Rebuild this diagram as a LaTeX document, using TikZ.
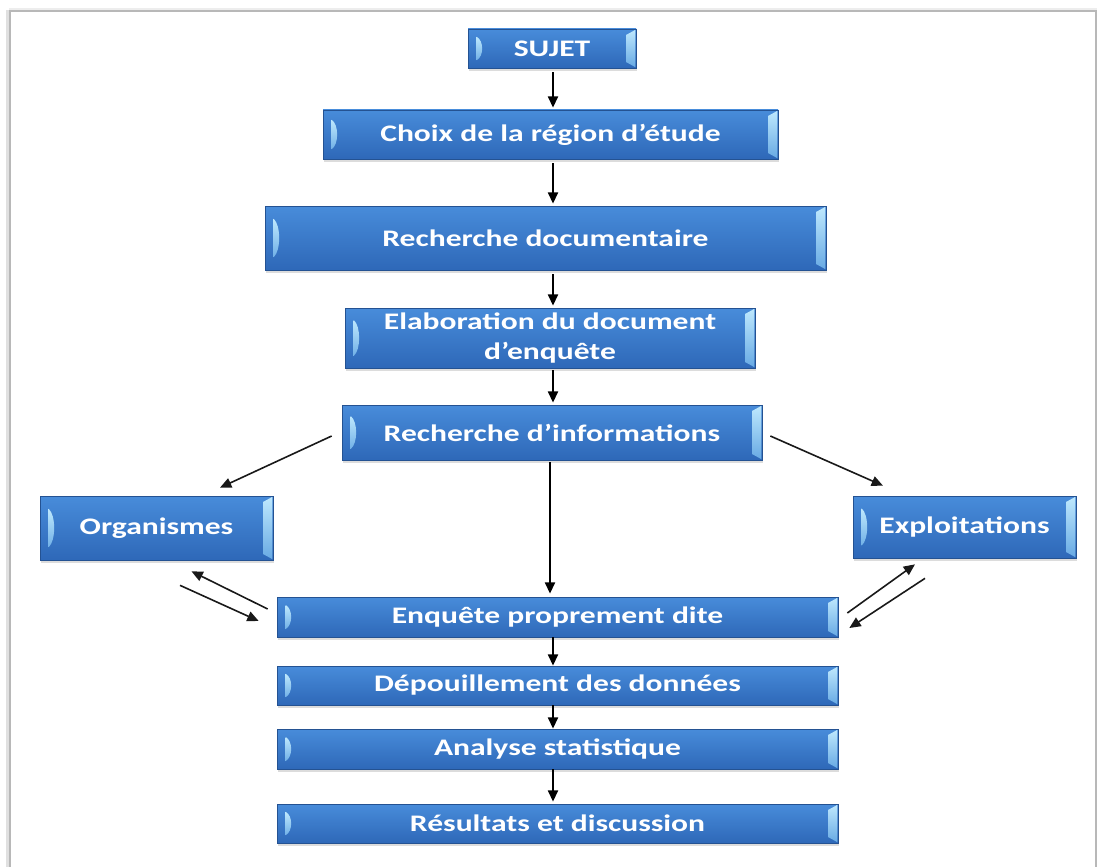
\documentclass[tikz,border=0pt]{standalone}
\usepackage{fontspec}
\newfontfamily\boxfont{Carlito}[FakeStretch=1.33]
\usetikzlibrary{calc,shadows,arrows.meta}
\definecolor{boxtop}{RGB}{72,140,218}
\definecolor{boxbot}{RGB}{46,104,184}
\definecolor{boxline}{RGB}{36,82,146}
\definecolor{tabhi}{RGB}{190,232,253}
\definecolor{tablo}{RGB}{104,170,228}
\begin{document}
\begin{tikzpicture}[x=0.75pt,y=-0.75pt,
  box/.style={rectangle, draw=boxline, line width=0.5pt,
    top color=boxtop, bottom color=boxbot,
    drop shadow={shadow xshift=0.6pt, shadow yshift=-2.2pt, opacity=0.28},
    text=white, inner sep=0pt, align=center,
    font=\boxfont\bfseries\fontsize{17.8}{22}\selectfont,
    path picture={
      \path (path picture bounding box.north west) coordinate (nw)
            (path picture bounding box.south east) coordinate (se);
      % rounded bevel mark near the left edge
      \shade[top color=tabhi, bottom color=tablo!90!tabhi] let \p1=(nw), \p2=(se), \n1={\y1-\y2} in
        (\x1+6.5pt,\y1-0.2*\n1) .. controls (\x1+12pt,\y1-0.3*\n1) and (\x1+12pt,\y2+0.3*\n1) ..
        (\x1+6.5pt,\y2+0.2*\n1) -- cycle;
      % bevelled facet on the right edge
      \shade[top color=tabhi, bottom color=tablo] let \p1=(nw), \p2=(se), \n1={\y1-\y2} in
        (\x2-0.4pt,\y1-0.6pt) -- (\x2-7.5pt,\y1-4.5pt) -- (\x2-7.5pt,\y2+4.5pt)
        -- (\x2-0.4pt,\y2+0.6pt) -- cycle;
    }},
  arr/.style={-{Triangle[length=8.5pt,width=7.5pt]}, line width=1.6pt, black},
  thin arr/.style={-{Triangle[length=8.5pt,width=7.5pt]}, line width=1.2pt, black!90}]

\useasboundingbox (0,0) rectangle (1097,867);

% page frame
\draw[black!12, line width=3pt] (8,10) -- (8,880);
\draw[black!7, line width=2pt] (9,9) -- (1098,9);
\draw[black!28, line width=0.8pt] (10,11) rectangle (1096,880);

% steps of the survey
\node[box, minimum width=168*0.75pt, minimum height=39*0.75pt] (sujet) at (552,48.5) {SUJET};
\node[box, minimum width=455*0.75pt, minimum height=49*0.75pt] (choix) at (550.5,134.5) {Choix de la région d’étude};
\node[box, minimum width=561*0.75pt, minimum height=64*0.75pt] (rdoc) at (545.5,238) {Recherche documentaire};
\node[box, minimum width=410*0.75pt, minimum height=60*0.75pt] (elab) at (550,338) {Elaboration du document\\d’enquête};
\node[box, minimum width=420*0.75pt, minimum height=55*0.75pt] (rinfo) at (552,432.5) {Recherche d’informations};
\node[box, minimum width=233*0.75pt, minimum height=64*0.75pt] (org) at (156.5,528) {Organismes};
\node[box, minimum width=223*0.75pt, minimum height=62*0.75pt] (expl) at (964.5,527) {Exploitations};
\node[box, minimum width=561*0.75pt, minimum height=40*0.75pt] (enq) at (557.5,617) {Enquête proprement dite};
\node[box, minimum width=561*0.75pt, minimum height=39*0.75pt] (dep) at (557.5,685.5) {Dépouillement des données};
\node[box, minimum width=561*0.75pt, minimum height=40*0.75pt] (ana) at (557.5,749) {Analyse statistique};
\node[box, minimum width=561*0.75pt, minimum height=39*0.75pt] (res) at (557.5,823.5) {Résultats et discussion};

% vertical spine of the main sequence
\coordinate (spine) at (553,0);
\coordinate (spine2) at (550,0);

\draw[arr] ($(sujet.south -| spine)+(0,4)$) -- ($(choix.north -| spine)+(0,-2)$);
\draw[arr] ($(choix.south -| spine)+(0,4)$) -- ($(rdoc.north -| spine)+(0,-2)$);
\draw[arr] ($(rdoc.south -| spine)+(0,4)$) -- ($(elab.north -| spine)+(0,-2)$);
\draw[arr] ($(elab.south -| spine)+(0,2)$) -- ($(rinfo.north -| spine)+(0,-2)$);
\draw[arr] ($(rinfo.south -| spine2)+(0,2)$) -- ($(enq.north -| spine2)+(0,-3)$);
\draw[arr] (enq.south -| spine) -- (dep.north -| spine);
\draw[arr] (dep.south -| spine) -- (ana.north -| spine);
\draw[arr] (ana.south -| spine) -- ($(res.north -| spine)+(0,-2)$);

% branches towards the information sources
\draw[thin arr] ($(rinfo.west)+(-10,3.5)$) -- ($(org.north)+(63.5,-8)$);
\draw[thin arr] ($(rinfo.east)+(8,3.5)$) -- ($(expl.north)+(-81.5,-10)$);

% exchanges with the survey
\draw[thin arr] ($(enq.west)+(-9,-8)$) -- ($(org.south)+(35,11)$);
\draw[thin arr] ($(org.south)+(23.5,25)$) -- ($(enq.west)+(-18,4)$);
\draw[thin arr] ($(enq.east)+(9,-4)$) -- ($(expl.south)+(-49.5,6)$);
\draw[thin arr] ($(expl.south)+(-39.5,20)$) -- ($(enq.east)+(11,11)$);
\end{tikzpicture}
\end{document}
